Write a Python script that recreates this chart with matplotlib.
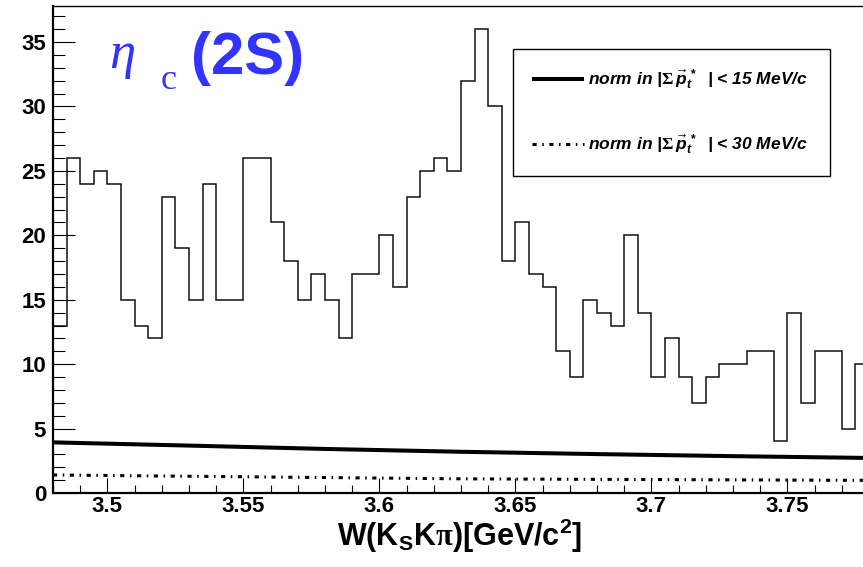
import numpy as np
import matplotlib
matplotlib.use("Agg")
import matplotlib.pyplot as plt
from matplotlib.ticker import MultipleLocator, FuncFormatter
from matplotlib.lines import Line2D

plt.rcParams['font.family'] = ['Liberation Sans', 'DejaVu Sans']
plt.rcParams['font.weight'] = 'bold'
plt.rcParams['mathtext.fontset'] = 'custom'
plt.rcParams['mathtext.rm'] = 'Liberation Sans:bold'
plt.rcParams['mathtext.it'] = 'Liberation Sans:bold:italic'
plt.rcParams['mathtext.sf'] = 'Liberation Serif'
plt.rcParams['lines.scale_dashes'] = False

# histogram: 60 bins of 5 MeV from 3.48 GeV
bin_lo = 3.48
bin_w = 0.005
counts = [13, 26, 24, 25, 24, 15, 13, 12, 23, 19, 15, 24, 15, 15, 26, 26, 21, 18, 15, 17,
          15, 12, 17, 17, 20, 16, 23, 25, 26, 25, 32, 36, 30, 18, 21, 17, 16, 11,
          9, 15, 14, 13, 20, 14, 9, 12, 9, 7, 9, 10, 10, 11, 11, 4, 14, 7, 11, 11, 5, 10]

# normalised background curves
curve_x = [3.48, 3.53, 3.58, 3.63, 3.68, 3.73, 3.78]
norm15 = [3.93, 3.68, 3.42, 3.20, 3.02, 2.86, 2.72]
norm30 = [1.40, 1.30, 1.20, 1.10, 1.06, 1.02, 0.98]

labels = [r'norm in |$\mathsf{\Sigma}\,\vec{p}_{t}^{\,*}$  | < 15 MeV/c',
          r'norm in |$\mathsf{\Sigma}\,\vec{p}_{t}^{\,*}$  | < 30 MeV/c']

W, H = 863, 567
fig = plt.figure(figsize=(W / 100, H / 100), dpi=100)
ax = fig.add_axes([53 / W, 74 / H, 816 / W, 487 / H])

edges = bin_lo + bin_w * np.arange(len(counts) + 1)
ax.stairs(counts, edges, baseline=None, color='#111111', lw=1.1)

dashdot = (0, (3.0, 4.0, 1.1, 4.0))
ax.plot(curve_x, norm15, color='black', lw=2.9, solid_capstyle='butt')
ax.plot(curve_x, norm30, color='black', lw=2.2, linestyle=dashdot, dash_capstyle='butt')

ax.set_xlim(3.48, 3.78)
ax.set_ylim(0, 37.8)

ax.xaxis.set_major_locator(MultipleLocator(0.05))
ax.xaxis.set_minor_locator(MultipleLocator(0.01))
ax.yaxis.set_major_locator(MultipleLocator(5))
ax.yaxis.set_minor_locator(MultipleLocator(1))
ax.xaxis.set_major_formatter(FuncFormatter(lambda v, p: '%g' % round(v, 3)))

ax.tick_params(axis='both', which='both', direction='in', width=0.8, labelsize=16,
               top=False, right=False)
ax.tick_params(axis='y', which='major', length=15.8, pad=5)
ax.tick_params(axis='y', which='minor', length=8.6)
ax.tick_params(axis='x', which='major', length=10.8, pad=2)
ax.tick_params(axis='x', which='minor', length=5.8)
for lab in ax.get_xticklabels() + ax.get_yticklabels():
    lab.set_fontweight('bold')

ax.spines['left'].set_linewidth(1.6)
ax.spines['bottom'].set_linewidth(1.6)
ax.spines['top'].set_linewidth(1.0)
ax.spines['right'].set_linewidth(1.0)

fig.text(460 / W, 1 - 546 / H, r'W(K$_{\mathrm{S}}$K$\mathsf{\pi}$)[GeV/c$^{\mathrm{2}}$]',
         ha='center', va='baseline', fontsize=22, fontweight='bold')

# title eta_c(2S)
blue = '#3333ff'
fig.text(109 / W, 1 - 68 / H, 'η', fontsize=38, color=blue, va='baseline',
         family='Liberation Serif', style='italic', fontweight='normal')
fig.text(161 / W, 1 - 89 / H, 'c', fontsize=26, color=blue, va='baseline',
         family='Liberation Serif', fontweight='normal')
fig.text(191 / W, 1 - 74 / H, '(2S)', fontsize=43, color=blue, va='baseline',
         fontweight='bold')

handles = [Line2D([], [], color='black', lw=2.9, solid_capstyle='butt'),
           Line2D([], [], color='black', lw=2.2, linestyle=dashdot, dash_capstyle='butt')]
leg = ax.legend(handles, labels, loc='upper left',
                bbox_to_anchor=(513 / W, 1 - 49 / H, 317 / W, 0),
                bbox_transform=fig.transFigure, mode='expand', borderaxespad=0,
                prop={'size': 12.5, 'weight': 'bold', 'style': 'italic'},
                handlelength=3.0, handletextpad=0.2, borderpad=1.1, labelspacing=2.3,
                fancybox=False, framealpha=1, edgecolor='black')
leg.get_frame().set_linewidth(1.0)

fig.savefig('out.png', dpi=100)
